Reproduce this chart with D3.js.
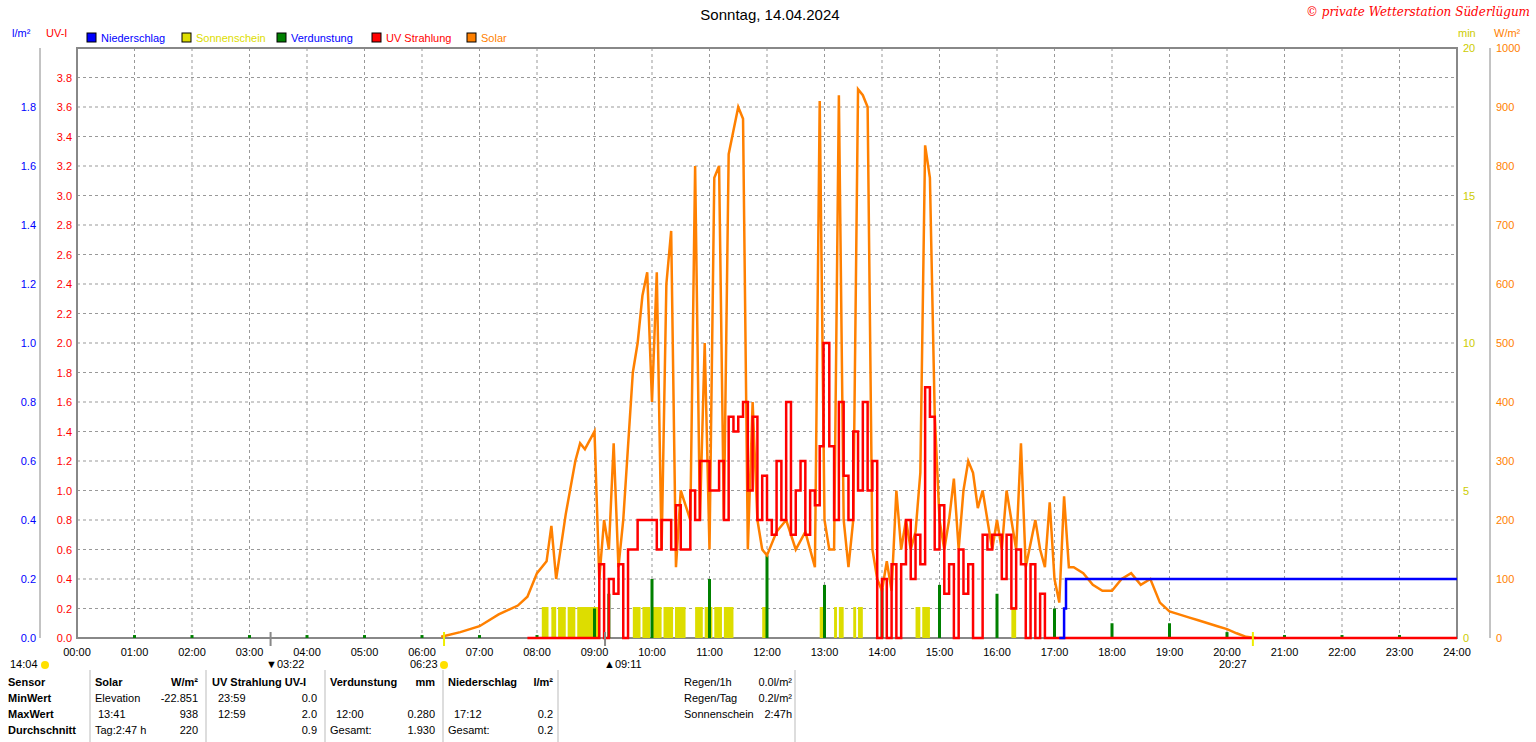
<!DOCTYPE html>
<html><head><meta charset="utf-8">
<script src="https://cdn.jsdelivr.net/npm/d3@7"></script>
<style>
body{margin:0;background:#fff;font-family:"Liberation Sans",Arial,sans-serif;}
text{font-size:11px;}
</style></head>
<body><div id="chart"></div>
<script>
// data (times as "HH:MM")
const solarTimes = ["06:20","06:40","07:00","07:20","07:40","07:50","08:00","08:10","08:15","08:20","08:30","08:40","08:45","08:50","09:00","09:05","09:10","09:15","09:20","09:25","09:30","09:40","09:45","09:50","09:55","10:00","10:05","10:10","10:15","10:20","10:25","10:30","10:40","10:45","10:50","10:55","11:00","11:05","11:10","11:15","11:20","11:25","11:30","11:35","11:40","11:45","11:50","11:55","12:00","12:10","12:20","12:30","12:40","12:50","12:55","13:00","13:05","13:10","13:15","13:20","13:25","13:30","13:35","13:40","13:45","13:50","13:55","14:00","14:05","14:10","14:15","14:20","14:25","14:30","14:35","14:40","14:45","14:50","14:55","15:00","15:05","15:10","15:15","15:20","15:25","15:30","15:35","15:40","15:45","15:50","15:55","16:00","16:05","16:10","16:15","16:20","16:25","16:30","16:40","16:45","16:50","16:55","17:00","17:05","17:10","17:15","17:20","17:30","17:40","17:50","18:00","18:10","18:20","18:30","18:40","18:50","19:00","19:10","19:20","19:30","19:40","19:50","20:00","20:10","20:20","20:30"];
const solarValues = [2,10,20,40,55,70,110,130,190,100,210,300,330,320,350,100,200,150,330,120,200,450,500,580,620,400,620,150,600,690,120,250,200,800,200,500,150,780,800,200,820,860,900,880,150,400,200,150,140,180,200,150,180,120,910,200,150,150,920,200,120,200,930,920,900,150,100,80,130,80,250,150,200,150,180,280,835,780,380,200,150,200,270,150,250,300,280,220,250,200,150,200,150,250,200,150,330,120,200,150,120,230,100,60,240,120,120,110,90,80,80,100,110,90,100,60,45,40,35,30,25,20,15,8,2,0];

const uvTimes = ["07:50","09:00","09:05","09:10","09:15","09:20","09:25","09:30","09:35","09:45","10:00","10:05","10:10","10:20","10:25","10:30","10:40","10:45","10:50","11:00","11:10","11:15","11:20","11:25","11:30","11:35","11:40","11:45","11:50","11:55","12:00","12:05","12:10","12:15","12:20","12:25","12:30","12:35","12:40","12:45","12:50","12:55","12:59","13:05","13:10","13:15","13:20","13:25","13:30","13:35","13:40","13:45","13:50","13:55","14:00","14:05","14:10","14:15","14:20","14:25","14:30","14:35","14:40","14:45","14:50","14:55","15:00","15:05","15:10","15:15","15:20","15:25","15:30","15:35","15:45","15:50","15:55","16:00","16:05","16:10","16:15","16:20","16:25","16:30","16:35","16:40","16:45","16:50","17:00","24:00"];
const uvValues = [0,0,0.5,0,0.4,0.3,0.5,0,0.6,0.8,0.8,0.6,0.8,0.6,0.9,0.6,1.0,0.8,1.2,1.0,1.2,0.8,1.5,1.4,1.5,1.6,1.0,1.5,0.8,1.1,0.8,0.7,1.2,0.8,1.6,0.7,1.0,1.2,0.7,1.0,0.9,1.3,2.0,1.3,0.8,1.6,1.1,0.8,1.4,1.0,1.6,1.0,1.2,0,0.4,0,0.5,0,0.5,0.8,0.4,0.7,0.5,1.7,1.5,0.6,0.9,0.3,0.5,0,0.6,0.3,0.5,0,0.7,0.6,0.7,0.7,0.4,0.7,0.2,0.6,0.5,0,0.5,0,0.3,0,0,0];

const rainTimes = ["17:05","17:10","17:12","24:00"];
const rainValues = [0,0.1,0.2,0.2];

const sunStarts = ["08:05","08:15","08:22","08:32","08:42","09:40","09:50","10:00","10:12","10:24","10:45","10:55","11:05","11:15","11:55","12:55","13:10","13:15","13:30","13:35","14:35","14:42","16:15"];
const sunEnds =   ["08:12","08:20","08:30","08:40","09:05","09:48","09:58","10:10","10:22","10:35","10:53","11:03","11:13","11:25","12:00","13:00","13:13","13:20","13:33","13:40","14:40","14:50","16:20"];
const sunMinutes = 1.05;

const evapTimes = ["01:00","02:00","03:00","04:00","05:00","06:00","07:00","08:00","09:00","09:15","10:00","11:00","12:00","13:00","14:00","15:00","16:00","17:00","18:00","19:00","20:00","21:00","22:00","23:00"];
const evapValues = [0.01,0.01,0.01,0.01,0.01,0.01,0.01,0.01,0.1,0.15,0.2,0.2,0.28,0.18,0.17,0.18,0.15,0.1,0.05,0.05,0.02,0.01,0.01,0.01];

const hourLabels = d3.range(0,25).map(h => String(h).padStart(2,"0")+":00");

const W = 1536, H = 742;
const x0 = 77, x1 = 1457, yTop = 48, yBot = 638;
const toH = s => { const [h,m] = s.split(":").map(Number); return h + m/60; };

const svg = d3.select("#chart").append("svg").attr("width", W).attr("height", H);
const x = d3.scaleLinear().domain([0,24]).range([x0,x1]);
const yUV = d3.scaleLinear().domain([0,4]).range([yBot,yTop]);
const yRain = d3.scaleLinear().domain([0,2]).range([yBot,yTop]);
const yMin = d3.scaleLinear().domain([0,20]).range([yBot,yTop]);
const ySol = d3.scaleLinear().domain([0,1000]).range([yBot,yTop]);

// grid
const grid = svg.append("g").attr("stroke","#999").attr("stroke-dasharray","3,3");
d3.range(1,24).forEach(h => grid.append("line").attr("x1",x(h)).attr("x2",x(h)).attr("y1",yTop).attr("y2",yBot));
d3.range(1,20).forEach(i => grid.append("line").attr("x1",x0).attr("x2",x1).attr("y1",yUV(i*0.2)).attr("y2",yUV(i*0.2)));

// frame
svg.append("rect").attr("x",x0).attr("y",yTop).attr("width",x1-x0).attr("height",yBot-yTop).attr("fill","none").attr("stroke","#888").attr("stroke-width",2);
svg.append("line").attr("x1",40).attr("x2",40).attr("y1",yTop).attr("y2",yBot).attr("stroke","#888");
svg.append("line").attr("x1",1490).attr("x2",1490).attr("y1",yTop).attr("y2",yBot).attr("stroke","#888");

// axes labels
const ax = svg.append("g");
d3.range(0,10).forEach(i => ax.append("text").attr("x",36).attr("y",yRain(i*0.2)+4).attr("text-anchor","end").attr("fill","#00f").text((i*0.2).toFixed(1)));
d3.range(0,20).forEach(i => ax.append("text").attr("x",72).attr("y",yUV(i*0.2)+4).attr("text-anchor","end").attr("fill","#f00").text((i*0.2).toFixed(1)));
d3.range(0,5).forEach(i => ax.append("text").attr("x",1463).attr("y",yMin(i*5)+4).attr("fill","#cccc00").text(i*5));
d3.range(0,11).forEach(i => ax.append("text").attr("x",1496).attr("y",ySol(i*100)+4).attr("fill","#ff8000").text(i*100));
ax.append("text").attr("x",12).attr("y",37).attr("fill","#00f").text("l/m²");
ax.append("text").attr("x",46).attr("y",37).attr("fill","#f00").text("UV-I");
ax.append("text").attr("x",1458).attr("y",37).attr("fill","#cccc00").text("min");
ax.append("text").attr("x",1494).attr("y",37).attr("fill","#ff8000").text("W/m²");
hourLabels.forEach((l,i) => ax.append("text").attr("x",x(i)).attr("y",656).attr("text-anchor","middle").text(l));

// legend
const legend = [["Niederschlag","#0000ff","#0000ff"],["Sonnenschein","#dddd00","#dddd00"],["Verdunstung","#008000","#0000ff"],["UV Strahlung","#ff0000","#ff0000"],["Solar","#ff8000","#ff8000"]];
const lx = [87,182,277,372,467];
legend.forEach((d,i) => {
  svg.append("rect").attr("x",lx[i]).attr("y",33).attr("width",9).attr("height",9).attr("fill",d[1]).attr("stroke","#000");
  svg.append("text").attr("x",lx[i]+14).attr("y",42).attr("fill",d[2]).text(d[0]);
});
svg.append("text").attr("x",770).attr("y",20).attr("text-anchor","middle").style("font-size","15px").text("Sonntag, 14.04.2024");
svg.append("text").attr("x",1530).attr("y",16).attr("text-anchor","end").attr("fill","#f00").style("font-style","italic").style("font-family","DejaVu Serif").style("font-size","12px").text("© private Wetterstation Süderlügum");

// sunshine bars
sunStarts.forEach((s,i) => svg.append("rect").attr("x",x(toH(s))).attr("width",x(toH(sunEnds[i]))-x(toH(s))).attr("y",yMin(sunMinutes)).attr("height",yBot-yMin(sunMinutes)).attr("fill","#dddd00"));

// evaporation bars
evapTimes.forEach((t,i) => svg.append("rect").attr("x",x(toH(t))-1.5).attr("width",3).attr("y",yRain(evapValues[i])).attr("height",yBot-yRain(evapValues[i])).attr("fill","#008000"));

// solar line
const solar = solarTimes.map((t,i) => [toH(t), solarValues[i]]);
svg.append("path").datum(solar).attr("fill","none").attr("stroke","#ff8000").attr("stroke-width",2.5)
  .attr("d", d3.line().x(d => x(d[0])).y(d => ySol(d[1])));

// uv line (steps)
const uv = uvTimes.map((t,i) => [toH(t), uvValues[i]]);
svg.append("path").datum(uv).attr("fill","none").attr("stroke","#ff0000").attr("stroke-width",2.5)
  .attr("d", d3.line().curve(d3.curveStepAfter).x(d => x(d[0])).y(d => yUV(d[1])));

// rain line
const rain = rainTimes.map((t,i) => [toH(t), rainValues[i]]);
svg.append("path").datum(rain).attr("fill","none").attr("stroke","#0000ff").attr("stroke-width",2.5)
  .attr("d", d3.line().curve(d3.curveStepAfter).x(d => x(d[0])).y(d => yRain(d[1])));

// sun / moon markers
const marks = [["14:04",10,""],["03:22",266,"▼"],["06:23",410,""],["09:11",604,"▲"],["20:27",1219,""]];
marks.forEach(m => svg.append("text").attr("x",m[1]).attr("y",668).text(m[2]+m[0]));
[[45,665],[444,665]].forEach(p => svg.append("circle").attr("cx",p[0]).attr("cy",p[1]).attr("r",4).attr("fill","#ffe000"));
[["03:22","#888"],["09:11","#888"],["06:23","#ee0"],["20:27","#ee0"]].forEach(m =>
  svg.append("line").attr("x1",x(toH(m[0]))).attr("x2",x(toH(m[0]))).attr("y1",632).attr("y2",646).attr("stroke",m[1]).attr("stroke-width",2));

// table
const rows = [686,702,718,734];
const cells = [
  [8,0,"Sensor","start",true],[8,1,"MinWert","start",true],[8,2,"MaxWert","start",true],[8,3,"Durchschnitt","start",true],
  [95,0,"Solar","start",true],[198,0,"W/m²","end",true],[95,1,"Elevation","start"],[198,1,"-22.851","end"],[98,2,"13:41","start"],[198,2,"938","end"],[95,3,"Tag:2:47 h","start"],[198,3,"220","end"],
  [212,0,"UV Strahlung UV-I","start",true],[218,1,"23:59","start"],[317,1,"0.0","end"],[218,2,"12:59","start"],[317,2,"2.0","end"],[317,3,"0.9","end"],
  [330,0,"Verdunstung","start",true],[435,0,"mm","end",true],[336,2,"12:00","start"],[435,2,"0.280","end"],[330,3,"Gesamt:","start"],[435,3,"1.930","end"],
  [448,0,"Niederschlag","start",true],[553,0,"l/m²","end",true],[454,2,"17:12","start"],[553,2,"0.2","end"],[448,3,"Gesamt:","start"],[553,3,"0.2","end"],
  [684,0,"Regen/1h","start"],[792,0,"0.0l/m²","end"],[684,1,"Regen/Tag","start"],[792,1,"0.2l/m²","end"],[684,2,"Sonnenschein","start"],[792,2,"2:47h","end"]
];
cells.forEach(c => svg.append("text").attr("x",c[0]).attr("y",rows[c[1]]).attr("text-anchor",c[3]).style("font-weight",c[4]?"bold":"normal").text(c[2]));
[90,206,325,443,558,795].forEach(v => svg.append("line").attr("x1",v).attr("x2",v).attr("y1",670).attr("y2",742).attr("stroke","#bbb"));
</script>
</body></html>
